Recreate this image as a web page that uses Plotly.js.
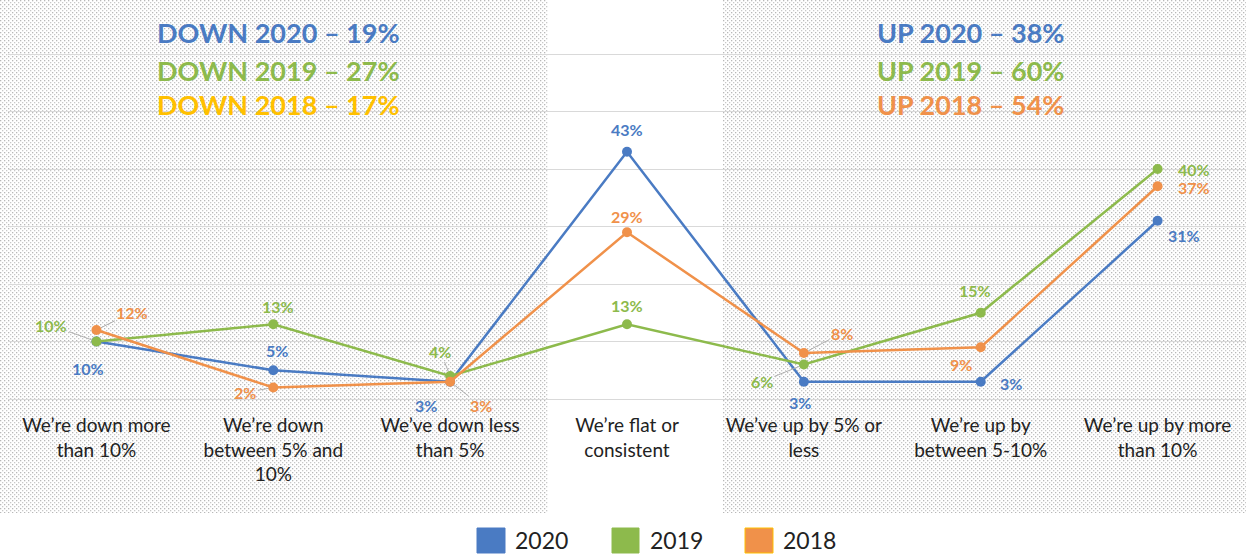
<!DOCTYPE html>
<html>
<head>
<meta charset="utf-8">
<script src="https://cdn.plot.ly/plotly-3.0.1.min.js"></script>
<style>html,body{margin:0;padding:0;background:#fff;}#chart{width:1246px;height:554px;}</style>
</head>
<body>
<div id="chart"></div>
<script>
// ---- data ----
const categories = [
  "We’re down more<br>than 10%",
  "We’re down<br>between 5% and<br>10%",
  "We’ve down less<br>than 5%",
  "We’re flat or<br>consistent",
  "We’ve up by 5% or<br>less",
  "We’re up by<br>between 5-10%",
  "We’re up by more<br>than 10%"
];
const seriesNames = ["2020", "2019", "2018"];
const values2020 = [10, 5, 3, 43, 3, 3, 31];
const values2019 = [10, 13, 4, 13, 6, 15, 40];
const values2018 = [12, 2, 3, 29, 8, 9, 37];
const downLabels = ["DOWN 2020 – 19%", "DOWN 2019 – 27%", "DOWN 2018 – 17%"];
const upLabels = ["UP 2020 – 38%", "UP 2019 – 60%", "UP 2018 – 54%"];

// ---- styles ----
const lineColors = ["#4A7BC3", "#8DBA4C", "#F0914A"];
const downColors = ["#4A7BC3", "#8DBA4C", "#FFC000"];
const upColors = ["#4A7BC3", "#8DBA4C", "#F0914A"];
const FONT = "Lato, 'Open Sans', sans-serif";
const W = 1246, H = 554, ML = 8, MR = 0, MT = 0, MB = 155;
const PW = W - ML - MR, PH = H - MT - MB;
const px2x = p => (p - ML) / PW;
const py2y = p => (H - MB - p) / PH;

// label offsets [dx, dy, leader?] per series per category (pixels)
const labelOffsets = [
  [[-8, 27, 0], [4, -20, 0], [-24, 24, 0], [0, -22, 0], [-4, 21, 0], [30, 2, 0], [26, 15, 0]],
  [[-45, -16, 1], [5, -18, 0], [-10, -25, 1], [0, -19, 0], [-42, 17, 1], [-6, -22, 0], [36, 0, 0]],
  [[36, -18, 1], [-28, 5, 1], [31, 24, 1], [0, -16, 0], [38, -20, 1], [-20, 17, 0], [36, 1, 0]]
];

const allValues = [values2020, values2019, values2018];
const traces = allValues.map((vals, i) => ({
  type: "scatter",
  mode: "lines+markers",
  name: seriesNames[i],
  x: categories,
  y: vals,
  line: {color: lineColors[i], width: 2.5},
  marker: {color: lineColors[i], size: 10},
  showlegend: false,
  hoverinfo: "skip"
}));

const annotations = [];
allValues.forEach((vals, i) => {
  vals.forEach((v, j) => {
    const [dx, dy, lead] = labelOffsets[i][j];
    const a = {
      x: categories[j], y: v, xref: "x", yref: "y",
      text: v + "%",
      font: {family: FONT, size: 16, color: lineColors[i], weight: 700}
    };
    if (lead) {
      Object.assign(a, {showarrow: true, ax: dx, ay: dy, arrowhead: 0, arrowwidth: 1,
        arrowcolor: "#b0b0b0", standoff: 5, startstandoff: 0});
    } else {
      Object.assign(a, {showarrow: false, xshift: dx, yshift: -dy});
    }
    annotations.push(a);
  });
});

const boxFont = (c) => ({family: FONT, size: 27, color: c, weight: 700});
const rowY = [32, 70, 104];
downLabels.forEach((t, i) => annotations.push({
  xref: "paper", yref: "paper", x: px2x(402), y: py2y(rowY[i]), xanchor: "right", yanchor: "middle",
  text: t, showarrow: false, font: boxFont(downColors[i])
}));
upLabels.forEach((t, i) => annotations.push({
  xref: "paper", yref: "paper", x: px2x(875), y: py2y(rowY[i]), xanchor: "left", yanchor: "middle",
  text: t, showarrow: false, font: boxFont(upColors[i])
}));

// legend (manual)
const legSq = [[477, 505], [612, 639], [745, 773]];
const legTx = [513, 648, 781];
const legBorder = ["#4A7BC3", "#8DBA4C", "#FFC000"];
const shapes = [];
seriesNames.forEach((n, i) => {
  shapes.push({type: "rect", xref: "paper", yref: "paper",
    x0: px2x(legSq[i][0]), x1: px2x(legSq[i][1]), y0: py2y(553), y1: py2y(528),
    fillcolor: lineColors[i], line: {color: legBorder[i], width: 1}});
  annotations.push({xref: "paper", yref: "paper", x: px2x(legTx[i]), y: py2y(540),
    xanchor: "left", yanchor: "middle", text: n, showarrow: false,
    font: {family: FONT, size: 23, color: "#222"}});
});

function patternSvg(w, h) {
  const s = "<svg xmlns='http://www.w3.org/2000/svg' width='" + w + "' height='" + h + "' preserveAspectRatio='none'>" +
    "<defs><pattern id='p' width='4' height='4' patternUnits='userSpaceOnUse'>" +
    "<rect x='0' y='0' width='1.3' height='1.3' fill='#b8b8b8'/>" +
    "<rect x='2' y='2' width='1.3' height='1.3' fill='#c8c8c8'/></pattern></defs>" +
    "<rect width='100%' height='100%' fill='url(#p)'/></svg>";
  return "data:image/svg+xml;charset=utf-8," + encodeURIComponent(s);
}
const images = [
  {source: patternSvg(548, 513), xref: "paper", yref: "paper", x: px2x(0), y: py2y(0),
   sizex: px2x(548) - px2x(0), sizey: py2y(0) - py2y(513), xanchor: "left", yanchor: "top",
   sizing: "stretch", layer: "below"},
  {source: patternSvg(523, 513), xref: "paper", yref: "paper", x: px2x(723), y: py2y(0),
   sizex: px2x(1246) - px2x(723), sizey: py2y(0) - py2y(513), xanchor: "left", yanchor: "top",
   sizing: "stretch", layer: "below"}
];

const layout = {
  width: W, height: H,
  margin: {l: ML, r: MR, t: MT, b: MB},
  paper_bgcolor: "#ffffff",
  plot_bgcolor: "rgba(0,0,0,0)",
  showlegend: false,
  xaxis: {
    type: "category", range: [-0.5, 6.5], showgrid: false, zeroline: false, showline: false,
    ticks: "", ticklabelstandoff: 13,
    tickfont: {family: FONT, size: 19, color: "#222"},
    fixedrange: true
  },
  yaxis: {
    range: [0, 69.4], dtick: 10, showticklabels: false, showgrid: true, gridcolor: "#d9d9d9",
    gridwidth: 1, zeroline: true, zerolinecolor: "#d9d9d9", zerolinewidth: 1, fixedrange: true
  },
  annotations: annotations,
  shapes: shapes,
  images: images
};

Plotly.newPlot("chart", traces, layout, {displayModeBar: false, staticPlot: true});
</script>
</body>
</html>
